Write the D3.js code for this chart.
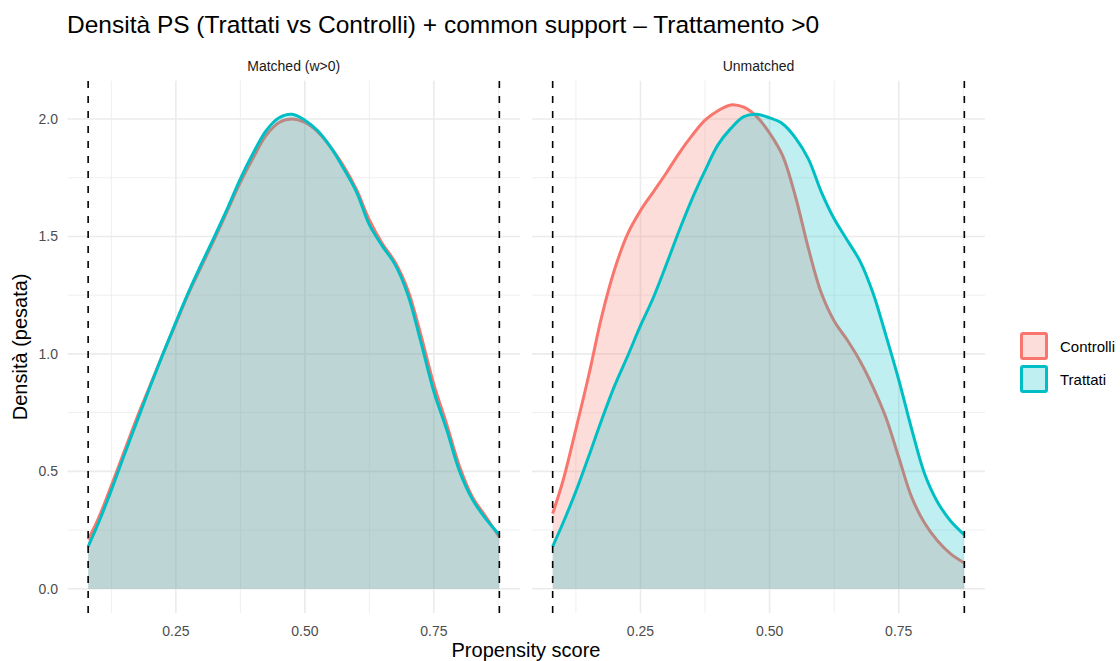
<!DOCTYPE html>
<html>
<head>
<meta charset="utf-8">
<script src="https://cdn.jsdelivr.net/npm/d3@7"></script>
<style>
  body { margin: 0; background: #fff; }
  svg { font-family: "Liberation Sans", Arial, sans-serif; }
  .grid-major { stroke: #ebebeb; stroke-width: 1.6; }
  .grid-minor { stroke: #ebebeb; stroke-width: 0.8; }
  .tick-label { fill: #4d4d4d; font-size: 14px; }
  .strip { fill: #1a1a1a; font-size: 14px; }
</style>
</head>
<body>
<svg width="1120" height="661"></svg>
<script>
// data
var xs = [0.08, 0.10, 0.125, 0.15, 0.175, 0.20, 0.225, 0.25, 0.275, 0.30, 0.325, 0.35,
          0.375, 0.40, 0.425, 0.45, 0.475, 0.50, 0.525, 0.55, 0.575, 0.60, 0.625, 0.65,
          0.675, 0.70, 0.725, 0.75, 0.775, 0.80, 0.825, 0.85, 0.877];

var matchedControlli = [0.21, 0.30, 0.44, 0.585, 0.73, 0.865, 1.0, 1.13, 1.26, 1.375, 1.49, 1.61,
                        1.73, 1.835, 1.93, 1.985, 2.0, 1.985, 1.945, 1.88, 1.80, 1.70, 1.57, 1.47,
                        1.39, 1.27, 1.08, 0.87, 0.70, 0.52, 0.39, 0.31, 0.22];
var matchedTrattati = [0.18, 0.28, 0.42, 0.57, 0.715, 0.86, 1.0, 1.135, 1.265, 1.385, 1.50, 1.62,
                       1.745, 1.855, 1.95, 2.005, 2.02, 1.995, 1.95, 1.88, 1.79, 1.69, 1.55, 1.46,
                       1.38, 1.25, 1.05, 0.84, 0.677, 0.50, 0.38, 0.30, 0.23];
var unmatchedControlli = [0.32, 0.46, 0.68, 0.91, 1.16, 1.36, 1.51, 1.61, 1.69, 1.77, 1.855, 1.93,
                          1.995, 2.035, 2.06, 2.05, 2.01, 1.94, 1.845, 1.67, 1.45, 1.26, 1.14, 1.06,
                          0.97, 0.86, 0.73, 0.56, 0.39, 0.28, 0.205, 0.15, 0.11];
var unmatchedTrattati = [0.18, 0.28, 0.415, 0.565, 0.72, 0.865, 0.99, 1.12, 1.24, 1.38, 1.525, 1.66,
                         1.78, 1.89, 1.96, 2.01, 2.02, 2.005, 1.98, 1.92, 1.83, 1.69, 1.575, 1.485,
                         1.395, 1.26, 1.08, 0.89, 0.68, 0.49, 0.37, 0.29, 0.23];

var support = [0.08, 0.877];
var panelNames = ["Matched (w>0)", "Unmatched"];
var groupNames = ["Controlli", "Trattati"];
var groupColors = ["#F8766D", "#00BFC4"];
var xTicks = [0.25, 0.50, 0.75];
var xMinor = [0.125, 0.375, 0.625, 0.875];
var yTicks = [0.0, 0.5, 1.0, 1.5, 2.0];
var yMinor = [0.25, 0.75, 1.25, 1.75];

var svg = d3.select("svg"),
    fmt = d3.format(".2f"),
    yfmt = d3.format(".1f");

var panels = [
    { name: panelNames[0], range: [67.5, 520], series: [matchedControlli, matchedTrattati] },
    { name: panelNames[1], range: [532, 985], series: [unmatchedControlli, unmatchedTrattati] }
];

var y = d3.scaleLinear()
    .domain([-0.103, 2.163])
    .range([613, 80.7]);

// title
svg.append("text")
    .attr("x", 67)
    .attr("y", 33)
    .style("font-size", "24.5px")
    .style("fill", "#000")
    .text("Densità PS (Trattati vs Controlli) + common support – Trattamento >0");

panels.forEach(function(p, pi) {
    var x = d3.scaleLinear()
        .domain([0.04, 0.917])
        .range(p.range);

    var g = svg.append("g");

    // grid
    g.selectAll(".ymin")
        .data(yMinor)
        .enter().append("line")
        .attr("class", "grid-minor")
        .attr("x1", p.range[0]).attr("x2", p.range[1])
        .attr("y1", y).attr("y2", y);
    g.selectAll(".xmin")
        .data(xMinor)
        .enter().append("line")
        .attr("class", "grid-minor")
        .attr("x1", x).attr("x2", x)
        .attr("y1", y.range()[0]).attr("y2", y.range()[1]);
    g.selectAll(".ymaj")
        .data(yTicks)
        .enter().append("line")
        .attr("class", "grid-major")
        .attr("x1", p.range[0]).attr("x2", p.range[1])
        .attr("y1", y).attr("y2", y);
    g.selectAll(".xmaj")
        .data(xTicks)
        .enter().append("line")
        .attr("class", "grid-major")
        .attr("x1", x).attr("x2", x)
        .attr("y1", y.range()[0]).attr("y2", y.range()[1]);

    var area = d3.area()
        .curve(d3.curveCatmullRom.alpha(0.5))
        .x(function(d, i) { return x(xs[i]); })
        .y0(y(0))
        .y1(function(d) { return y(d); });
    var line = d3.line()
        .curve(d3.curveCatmullRom.alpha(0.5))
        .x(function(d, i) { return x(xs[i]); })
        .y(function(d) { return y(d); });

    // each group: fill then outline, Trattati drawn over Controlli
    p.series.forEach(function(s, si) {
        g.append("path")
            .datum(s)
            .attr("d", area)
            .style("fill", groupColors[si])
            .style("fill-opacity", 0.25);
        g.append("path")
            .datum(s)
            .attr("d", line)
            .style("fill", "none")
            .style("stroke", groupColors[si])
            .style("stroke-width", 3);
    });

    // common support
    g.selectAll(".support")
        .data(support)
        .enter().append("line")
        .attr("x1", x).attr("x2", x)
        .attr("y1", y.range()[0]).attr("y2", y.range()[1])
        .style("stroke", "#000")
        .style("stroke-width", 1.6)
        .style("stroke-dasharray", "7,8");

    // x tick labels
    g.selectAll(".xlab")
        .data(xTicks)
        .enter().append("text")
        .attr("class", "tick-label")
        .attr("x", x)
        .attr("y", 636)
        .style("text-anchor", "middle")
        .text(fmt);

    // strip
    g.append("text")
        .attr("class", "strip")
        .attr("x", (p.range[0] + p.range[1]) / 2)
        .attr("y", 71)
        .style("text-anchor", "middle")
        .text(p.name);

    if (pi === 0) {
        g.selectAll(".ylab")
            .data(yTicks)
            .enter().append("text")
            .attr("class", "tick-label")
            .attr("x", 58)
            .attr("y", function(d) { return y(d) + 5; })
            .style("text-anchor", "end")
            .text(yfmt);
    }
});

// axis titles
svg.append("text")
    .attr("x", 526)
    .attr("y", 657)
    .style("text-anchor", "middle")
    .style("font-size", "20px")
    .text("Propensity score");
svg.append("text")
    .attr("transform", "translate(27," + ((y.range()[0] + y.range()[1]) / 2) + ") rotate(-90)")
    .style("text-anchor", "middle")
    .style("font-size", "20px")
    .text("Densità (pesata)");

// legend
var legend = svg.append("g")
    .attr("transform", "translate(1020,332)");
var items = legend.selectAll(".item")
    .data(groupNames)
    .enter().append("g")
    .attr("transform", function(d, i) { return "translate(0," + (i * 33) + ")"; });
items.append("rect")
    .attr("x", 1.5).attr("y", 1.5)
    .attr("width", 25)
    .attr("height", 25)
    .attr("rx", 1.5)
    .style("fill", function(d, i) { return groupColors[i]; })
    .style("fill-opacity", 0.25)
    .style("stroke", function(d, i) { return groupColors[i]; })
    .style("stroke-width", 3);
items.append("text")
    .attr("x", 40)
    .attr("y", 19.5)
    .style("font-size", "15px")
    .style("fill", "#000")
    .text(function(d) { return d; });
</script>
</body>
</html>
